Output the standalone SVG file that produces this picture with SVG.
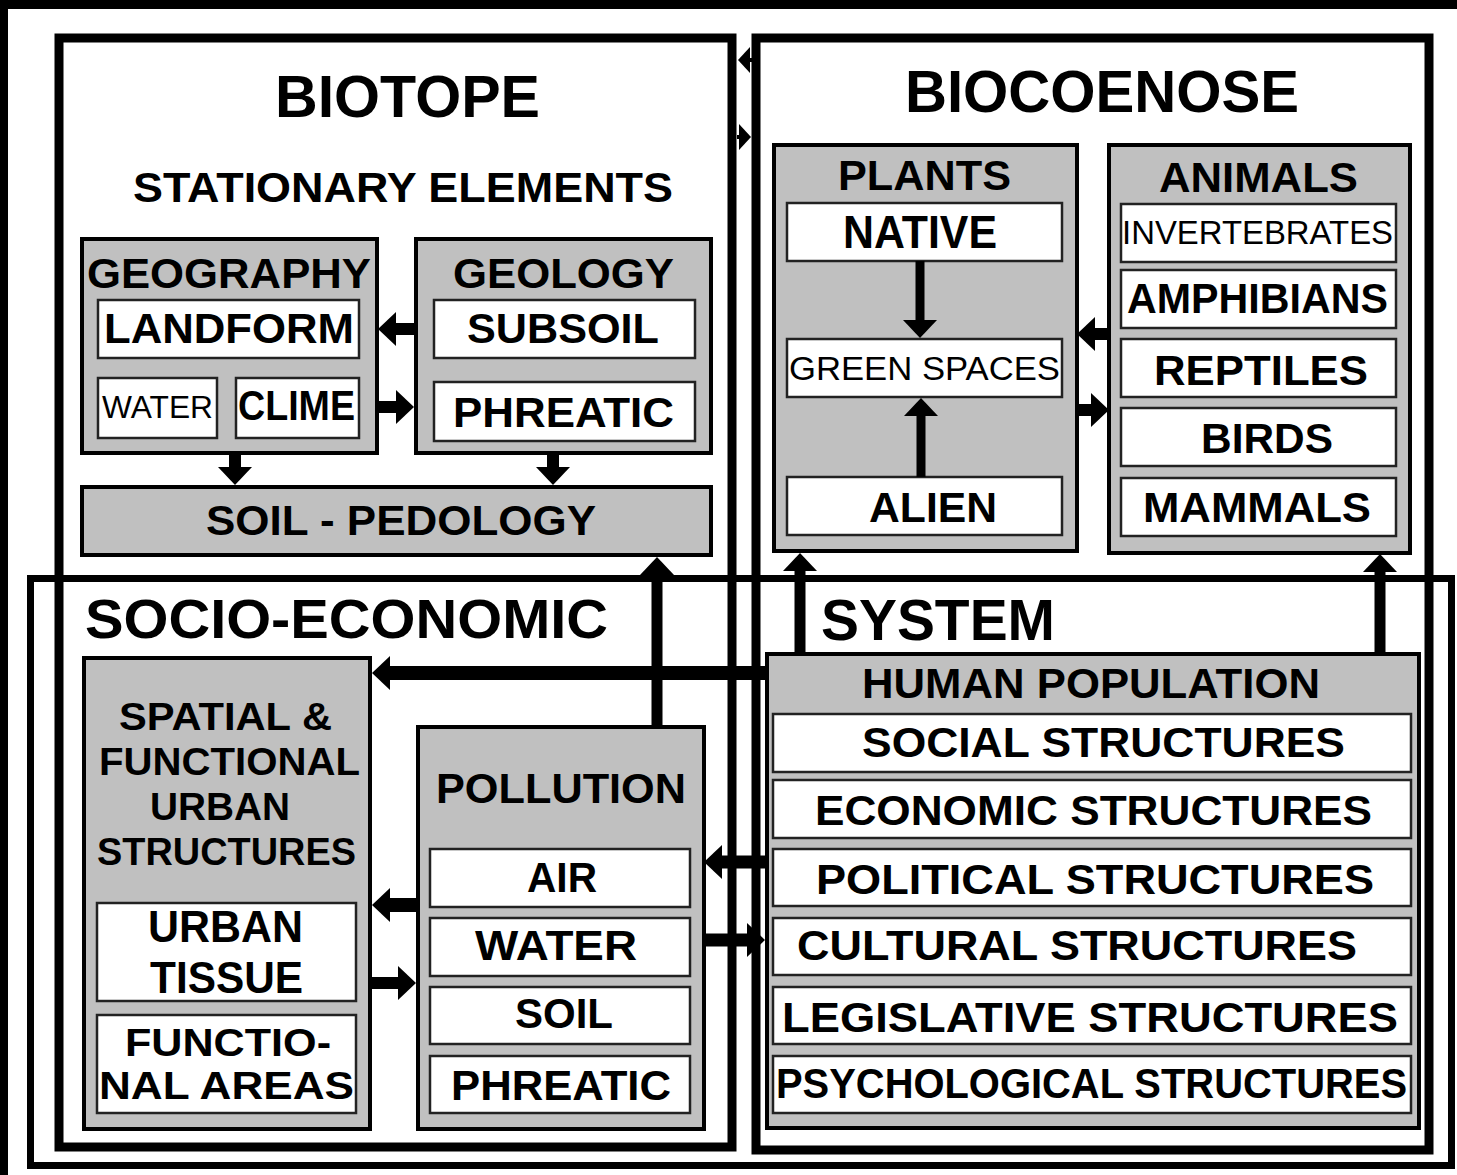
<svg xmlns="http://www.w3.org/2000/svg" width="1457" height="1175" viewBox="0 0 1457 1175">
<style>
.frame{fill:none;stroke:#000;stroke-width:9}
.outer{fill:none;stroke:#000;stroke-width:7}
.grp{fill:#c0c0c0;stroke:#000;stroke-width:4}
.item{fill:#fff;stroke:#222;stroke-width:2.5}
text{font-family:"Liberation Sans",Arial,sans-serif;font-weight:bold;fill:#000}
.n{font-weight:normal}
.conn line{stroke:#000;stroke-width:12;marker-end:url(#ah)}
.conn line.s{stroke-width:4;marker-end:url(#ahs)}
</style>
<defs>
<marker id="ah" viewBox="0 0 18 34" markerWidth="18" markerHeight="34" refX="0" refY="17" orient="auto" markerUnits="userSpaceOnUse"><path d="M0,0 L18,17 L0,34 z" fill="#000"/></marker>
<marker id="ahs" viewBox="0 0 12 26" markerWidth="12" markerHeight="26" refX="0" refY="13" orient="auto" markerUnits="userSpaceOnUse"><path d="M0,0 L12,13 L0,26 z" fill="#000"/></marker>
</defs>
<rect x="0" y="0" width="1457" height="1175" fill="#fff"/>
<rect x="0" y="0" width="1457" height="9" fill="#000"/>
<rect x="0" y="0" width="8" height="1175" fill="#000"/>

<g id="socio-economic-system">
<rect class="outer" x="30.5" y="578.5" width="1421" height="587"/>
<text x="85" y="638" font-size="56" textLength="523" lengthAdjust="spacingAndGlyphs">SOCIO-ECONOMIC</text>
<text x="821" y="640" font-size="57" textLength="234" lengthAdjust="spacingAndGlyphs">SYSTEM</text>
</g>

<g id="biotope">
<rect class="frame" x="59" y="38" width="673" height="1109"/>
<text x="275" y="117" font-size="60" textLength="265" lengthAdjust="spacingAndGlyphs">BIOTOPE</text>
<text x="133" y="202" font-size="42" textLength="540" lengthAdjust="spacingAndGlyphs">STATIONARY ELEMENTS</text>
</g>

<g id="biocoenose">
<rect class="frame" x="756" y="38" width="673" height="1112"/>
<text x="905" y="112" font-size="59" textLength="394" lengthAdjust="spacingAndGlyphs">BIOCOENOSE</text>
</g>

<g id="geography">
<rect class="grp" x="82" y="239" width="295" height="214"/>
<text x="87" y="288" font-size="43" textLength="284" lengthAdjust="spacingAndGlyphs">GEOGRAPHY</text>
</g>
<g id="landform"><rect class="item" x="98" y="300" width="261" height="58"/><text x="104" y="343" font-size="43" textLength="250" lengthAdjust="spacingAndGlyphs">LANDFORM</text></g>
<g id="water-geo"><rect class="item" x="98" y="378" width="119" height="60"/><text class="n" x="102" y="418" font-size="32" textLength="111" lengthAdjust="spacingAndGlyphs">WATER</text></g>
<g id="clime"><rect class="item" x="236" y="378" width="123" height="60"/><text x="238" y="420" font-size="42" textLength="117" lengthAdjust="spacingAndGlyphs">CLIME</text></g>

<g id="geology">
<rect class="grp" x="416" y="239" width="295" height="214"/>
<text x="453" y="288" font-size="43" textLength="221" lengthAdjust="spacingAndGlyphs">GEOLOGY</text>
</g>
<g id="subsoil"><rect class="item" x="434" y="300" width="261" height="58"/><text x="467" y="343" font-size="42" textLength="192" lengthAdjust="spacingAndGlyphs">SUBSOIL</text></g>
<g id="phreatic-geo"><rect class="item" x="434" y="382" width="261" height="59"/><text x="453" y="427" font-size="42" textLength="221" lengthAdjust="spacingAndGlyphs">PHREATIC</text></g>

<g id="soil-pedology"><rect class="grp" x="82" y="487" width="629" height="68"/><text x="206" y="535" font-size="42" textLength="390" lengthAdjust="spacingAndGlyphs">SOIL - PEDOLOGY</text></g>

<g id="plants">
<rect class="grp" x="774" y="145" width="303" height="406"/>
<text x="838" y="190" font-size="42" textLength="173" lengthAdjust="spacingAndGlyphs">PLANTS</text>
</g>
<g id="native"><rect class="item" x="787" y="203" width="275" height="58"/><text x="843" y="248" font-size="46" textLength="154" lengthAdjust="spacingAndGlyphs">NATIVE</text></g>
<g id="green-spaces"><rect class="item" x="787" y="339" width="275" height="58"/><text class="n" x="789" y="380" font-size="34" textLength="271" lengthAdjust="spacingAndGlyphs">GREEN SPACES</text></g>
<g id="alien"><rect class="item" x="787" y="477" width="275" height="58"/><text x="869" y="522" font-size="42" textLength="128" lengthAdjust="spacingAndGlyphs">ALIEN</text></g>

<g id="animals">
<rect class="grp" x="1109" y="145" width="301" height="408"/>
<text x="1159" y="192" font-size="42" textLength="199" lengthAdjust="spacingAndGlyphs">ANIMALS</text>
</g>
<g id="invertebrates"><rect class="item" x="1121" y="204" width="275" height="58"/><text class="n" x="1122" y="244" font-size="33" textLength="271" lengthAdjust="spacingAndGlyphs">INVERTEBRATES</text></g>
<g id="amphibians"><rect class="item" x="1121" y="270" width="275" height="58"/><text x="1127" y="313" font-size="43" textLength="261" lengthAdjust="spacingAndGlyphs">AMPHIBIANS</text></g>
<g id="reptiles"><rect class="item" x="1121" y="339" width="275" height="58"/><text x="1154" y="385" font-size="42" textLength="214" lengthAdjust="spacingAndGlyphs">REPTILES</text></g>
<g id="birds"><rect class="item" x="1121" y="408" width="275" height="58"/><text x="1201" y="453" font-size="43" textLength="132" lengthAdjust="spacingAndGlyphs">BIRDS</text></g>
<g id="mammals"><rect class="item" x="1121" y="478" width="275" height="58"/><text x="1143" y="522" font-size="42" textLength="228" lengthAdjust="spacingAndGlyphs">MAMMALS</text></g>

<g id="spatial-functional">
<rect class="grp" x="84" y="658" width="286" height="471"/>
<text x="119" y="730" font-size="38" textLength="213" lengthAdjust="spacingAndGlyphs">SPATIAL &amp;</text>
<text x="99" y="775" font-size="38" textLength="261" lengthAdjust="spacingAndGlyphs">FUNCTIONAL</text>
<text x="150" y="820" font-size="38" textLength="140" lengthAdjust="spacingAndGlyphs">URBAN</text>
<text x="97" y="865" font-size="38" textLength="259" lengthAdjust="spacingAndGlyphs">STRUCTURES</text>
</g>
<g id="urban-tissue"><rect class="item" x="97" y="903" width="259" height="98"/><text x="148" y="942" font-size="44" textLength="155" lengthAdjust="spacingAndGlyphs">URBAN</text><text x="150" y="993" font-size="44" textLength="153" lengthAdjust="spacingAndGlyphs">TISSUE</text></g>
<g id="functional-areas"><rect class="item" x="97" y="1015" width="259" height="98"/><text x="125" y="1056" font-size="38" textLength="206" lengthAdjust="spacingAndGlyphs">FUNCTIO-</text><text x="99" y="1099" font-size="38" textLength="255" lengthAdjust="spacingAndGlyphs">NAL AREAS</text></g>

<g id="pollution">
<rect class="grp" x="418" y="727" width="286" height="402"/>
<text x="436" y="803" font-size="42" textLength="250" lengthAdjust="spacingAndGlyphs">POLLUTION</text>
</g>
<g id="air"><rect class="item" x="430" y="849" width="260" height="58"/><text x="527" y="892" font-size="42" textLength="70" lengthAdjust="spacingAndGlyphs">AIR</text></g>
<g id="water-pol"><rect class="item" x="430" y="918" width="260" height="58"/><text x="475" y="960" font-size="42" textLength="162" lengthAdjust="spacingAndGlyphs">WATER</text></g>
<g id="soil-pol"><rect class="item" x="430" y="987" width="260" height="57"/><text x="515" y="1028" font-size="42" textLength="98" lengthAdjust="spacingAndGlyphs">SOIL</text></g>
<g id="phreatic-pol"><rect class="item" x="430" y="1056" width="260" height="57"/><text x="451" y="1100" font-size="42" textLength="220" lengthAdjust="spacingAndGlyphs">PHREATIC</text></g>

<g id="human-population">
<rect class="grp" x="767" y="654" width="652" height="474"/>
<text x="862" y="698" font-size="42" textLength="458" lengthAdjust="spacingAndGlyphs">HUMAN POPULATION</text>
</g>
<g id="social"><rect class="item" x="773" y="714" width="638" height="58"/><text x="862" y="757" font-size="42" textLength="483" lengthAdjust="spacingAndGlyphs">SOCIAL STRUCTURES</text></g>
<g id="economic"><rect class="item" x="773" y="780" width="638" height="58"/><text x="815" y="825" font-size="42" textLength="557" lengthAdjust="spacingAndGlyphs">ECONOMIC STRUCTURES</text></g>
<g id="political"><rect class="item" x="773" y="849" width="638" height="57"/><text x="816" y="894" font-size="42" textLength="558" lengthAdjust="spacingAndGlyphs">POLITICAL STRUCTURES</text></g>
<g id="cultural"><rect class="item" x="773" y="918" width="638" height="57"/><text x="797" y="960" font-size="42" textLength="560" lengthAdjust="spacingAndGlyphs">CULTURAL STRUCTURES</text></g>
<g id="legislative"><rect class="item" x="773" y="987" width="638" height="57"/><text x="782" y="1032" font-size="42" textLength="616" lengthAdjust="spacingAndGlyphs">LEGISLATIVE STRUCTURES</text></g>
<g id="psychological"><rect class="item" x="773" y="1056" width="638" height="57"/><text x="776" y="1098" font-size="42" textLength="631" lengthAdjust="spacingAndGlyphs">PSYCHOLOGICAL STRUCTURES</text></g>

<g id="connectors" class="conn">
<line x1="416" y1="329" x2="396" y2="329"/>
<line x1="377" y1="407" x2="396" y2="407"/>
<line x1="235" y1="455" x2="235" y2="467"/>
<line x1="553" y1="455" x2="553" y2="467"/>
<line x1="657" y1="727" x2="657" y2="575" style="stroke-width:11"/>
<line x1="920" y1="261" x2="920" y2="320" style="stroke-width:9"/>
<line x1="921" y1="477" x2="921" y2="416" style="stroke-width:9"/>
<line x1="1109" y1="334" x2="1095" y2="334"/>
<line x1="1077" y1="410" x2="1091" y2="410"/>
<line x1="800" y1="654" x2="800" y2="571" style="stroke-width:11"/>
<line x1="1380" y1="654" x2="1380" y2="572" style="stroke-width:11"/>
<line x1="767" y1="673" x2="390" y2="673" style="stroke-width:14"/>
<line x1="418" y1="905" x2="390" y2="905" style="stroke-width:14"/>
<line x1="370" y1="983" x2="398" y2="983" style="stroke-width:12"/>
<line x1="767" y1="862" x2="722" y2="862" style="stroke-width:13"/>
<line x1="704" y1="940" x2="747" y2="940" style="stroke-width:13"/>
<line class="s" x1="752" y1="60" x2="750" y2="60"/>
<line class="s" x1="737" y1="137" x2="739" y2="137"/>
</g>
</svg>
